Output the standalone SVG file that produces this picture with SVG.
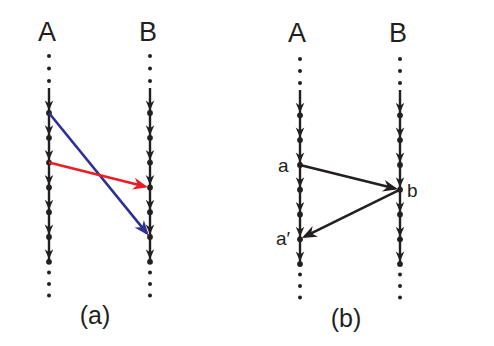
<svg xmlns="http://www.w3.org/2000/svg" xmlns:xlink="http://www.w3.org/1999/xlink" width="494" height="346" viewBox="0 0 494 346">
<style>
.lbl{font-family:"Liberation Sans","Open Sans",sans-serif;fill:#231f20;}
.big{font-size:27px;text-anchor:middle;}
.cap{font-size:25px;text-anchor:middle;}
.ev{font-size:19px;}
.ln{stroke:#231f20;stroke-width:2.4;fill:none;}
.d{fill:#231f20;}
.msg{stroke-width:2.6;fill:none;}
</style>
<defs>
<path id="sa" d="M0,0 L-4.3,-10 L0,-7 L4.3,-10 Z" fill="#231f20"/>
<marker id="mb" viewBox="-16 -7 17 14" refX="-3" refY="0" markerWidth="17" markerHeight="14" markerUnits="userSpaceOnUse" orient="auto"><path d="M0,0 L-15,-6 L-10.5,0 L-15,6 Z" fill="#2e3192"/></marker>
<marker id="mr" viewBox="-16 -7 17 14" refX="-3" refY="0" markerWidth="17" markerHeight="14" markerUnits="userSpaceOnUse" orient="auto"><path d="M0,0 L-15,-6 L-10.5,0 L-15,6 Z" fill="#ed1c24"/></marker>
<marker id="mk" viewBox="-16 -7 17 14" refX="-3" refY="0" markerWidth="17" markerHeight="14" markerUnits="userSpaceOnUse" orient="auto"><path d="M0,0 L-15,-6 L-10.5,0 L-15,6 Z" fill="#231f20"/></marker>
</defs>

<g id="panel-a-A">
<text class="lbl big" x="47" y="41">A</text>
<circle class="d" cx="49" cy="56" r="2"/><circle class="d" cx="49" cy="68.5" r="2"/><circle class="d" cx="49" cy="81" r="2"/>
<line class="ln" x1="49" y1="88" x2="49" y2="262"/>
<use xlink:href="#sa" x="49" y="110.5"/><use xlink:href="#sa" x="49" y="135.3"/><use xlink:href="#sa" x="49" y="160.1"/><use xlink:href="#sa" x="49" y="184.9"/><use xlink:href="#sa" x="49" y="209.7"/><use xlink:href="#sa" x="49" y="234.5"/><use xlink:href="#sa" x="49" y="259.3"/>
<circle class="d" cx="49" cy="113" r="2.9"/><circle class="d" cx="49" cy="137.8" r="2.9"/><circle class="d" cx="49" cy="162.6" r="2.9"/><circle class="d" cx="49" cy="187.4" r="2.9"/><circle class="d" cx="49" cy="212.2" r="2.9"/><circle class="d" cx="49" cy="237" r="2.9"/><circle class="d" cx="49" cy="261.8" r="2.9"/>
<circle class="d" cx="49" cy="272.5" r="2"/><circle class="d" cx="49" cy="284" r="2"/><circle class="d" cx="49" cy="295.5" r="2"/>
</g>

<g id="panel-a-B">
<text class="lbl big" x="148" y="41">B</text>
<circle class="d" cx="150" cy="56" r="2"/><circle class="d" cx="150" cy="68.5" r="2"/><circle class="d" cx="150" cy="81" r="2"/>
<line class="ln" x1="150" y1="88" x2="150" y2="262"/>
<use xlink:href="#sa" x="150" y="110.5"/><use xlink:href="#sa" x="150" y="135.3"/><use xlink:href="#sa" x="150" y="160.1"/><use xlink:href="#sa" x="150" y="184.9"/><use xlink:href="#sa" x="150" y="209.7"/><use xlink:href="#sa" x="150" y="234.5"/><use xlink:href="#sa" x="150" y="259.3"/>
<circle class="d" cx="150" cy="113" r="2.9"/><circle class="d" cx="150" cy="137.8" r="2.9"/><circle class="d" cx="150" cy="162.6" r="2.9"/><circle class="d" cx="150" cy="187.4" r="2.9"/><circle class="d" cx="150" cy="212.2" r="2.9"/><circle class="d" cx="150" cy="237" r="2.9"/><circle class="d" cx="150" cy="261.8" r="2.9"/>
<circle class="d" cx="150" cy="272.5" r="2"/><circle class="d" cx="150" cy="284" r="2"/><circle class="d" cx="150" cy="295.5" r="2"/>
</g>

<g id="panel-b-A">
<text class="lbl big" x="297" y="42">A</text>
<circle class="d" cx="300" cy="59" r="2"/><circle class="d" cx="300" cy="71" r="2"/><circle class="d" cx="300" cy="83" r="2"/>
<line class="ln" x1="300" y1="90" x2="300" y2="264"/>
<use xlink:href="#sa" x="300" y="112.8"/><use xlink:href="#sa" x="300" y="137.6"/><use xlink:href="#sa" x="300" y="162.4"/><use xlink:href="#sa" x="300" y="187.2"/><use xlink:href="#sa" x="300" y="212"/><use xlink:href="#sa" x="300" y="236.8"/><use xlink:href="#sa" x="300" y="261.6"/>
<circle class="d" cx="300" cy="115.3" r="2.9"/><circle class="d" cx="300" cy="140.1" r="2.9"/><circle class="d" cx="300" cy="164.9" r="2.9"/><circle class="d" cx="300" cy="189.7" r="2.9"/><circle class="d" cx="300" cy="214.5" r="2.9"/><circle class="d" cx="300" cy="239.3" r="2.9"/><circle class="d" cx="300" cy="264.1" r="2.9"/>
<circle class="d" cx="300" cy="274.5" r="2"/><circle class="d" cx="300" cy="286" r="2"/><circle class="d" cx="300" cy="297.5" r="2"/>
<text class="lbl ev" x="278" y="172">a</text>
<text class="lbl ev" x="276" y="245">a′</text>
</g>

<g id="panel-b-B">
<text class="lbl big" x="398" y="42">B</text>
<circle class="d" cx="400" cy="59" r="2"/><circle class="d" cx="400" cy="71" r="2"/><circle class="d" cx="400" cy="83" r="2"/>
<line class="ln" x1="400" y1="90" x2="400" y2="264"/>
<use xlink:href="#sa" x="400" y="112.8"/><use xlink:href="#sa" x="400" y="137.6"/><use xlink:href="#sa" x="400" y="162.4"/><use xlink:href="#sa" x="400" y="187.2"/><use xlink:href="#sa" x="400" y="212"/><use xlink:href="#sa" x="400" y="236.8"/><use xlink:href="#sa" x="400" y="261.6"/>
<circle class="d" cx="400" cy="115.3" r="2.9"/><circle class="d" cx="400" cy="140.1" r="2.9"/><circle class="d" cx="400" cy="164.9" r="2.9"/><circle class="d" cx="400" cy="189.7" r="2.9"/><circle class="d" cx="400" cy="214.5" r="2.9"/><circle class="d" cx="400" cy="239.3" r="2.9"/><circle class="d" cx="400" cy="264.1" r="2.9"/>
<circle class="d" cx="400" cy="274.5" r="2"/><circle class="d" cx="400" cy="286" r="2"/><circle class="d" cx="400" cy="297.5" r="2"/>
<text class="lbl ev" x="407" y="197">b</text>
</g>

<g id="connectors">
<line class="msg" stroke="#2e3192" x1="49" y1="113" x2="146.8" y2="233.1" marker-end="url(#mb)"/>
<line class="msg" stroke="#ed1c24" x1="49" y1="162.6" x2="145.1" y2="186.6" marker-end="url(#mr)"/>
<line class="msg" stroke="#231f20" x1="300" y1="164.9" x2="395.1" y2="188.6" marker-end="url(#mk)"/>
<line class="msg" stroke="#231f20" x1="400" y1="189.7" x2="304.5" y2="236.6" marker-end="url(#mk)"/>
</g>

<g id="captions">
<text class="lbl cap" x="95" y="324">(a)</text>
<text class="lbl cap" x="346" y="327">(b)</text>
</g>
</svg>
